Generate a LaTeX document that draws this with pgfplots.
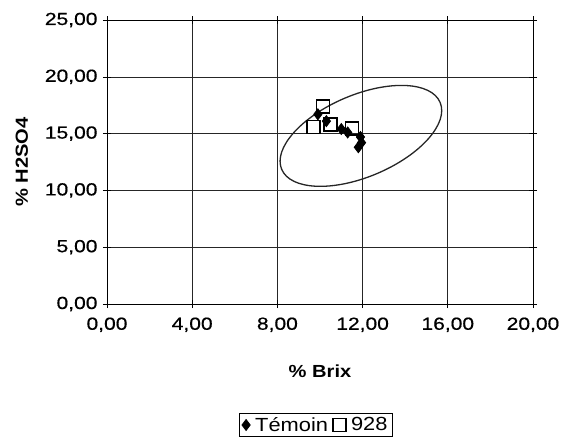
\documentclass[border=0pt]{standalone}
\usepackage{fontspec}
\setmainfont{Liberation Sans}
\newfontfamily\tickfont[FakeStretch=1.2,FakeBold=0.6]{Liberation Sans}
\newfontfamily\labfont[FakeStretch=1.15]{Liberation Sans}
\usepackage{pgfplots}
\pgfplotsset{compat=1.18}
\begin{document}
\begin{tikzpicture}
\begin{axis}[
  scale only axis,
  width=426pt, height=284pt,
  xmin=0, xmax=20, ymin=0, ymax=25,
  xtick={0,4,8,12,16,20},
  ytick={0,5,10,15,20,25},
  grid=major,
  grid style={black!85, line width=0.6pt},
  axis line style={black, line width=0.8pt},
  tick align=center,
  major tick length=8pt,
  tick style={black, line width=0.6pt},
  /pgf/number format/assume math mode=true,
  /pgf/number format/.cd, fixed, fixed zerofill, precision=2, use comma,
  /pgfplots/.cd,
  ticklabel style={font=\tickfont\fontsize{17.5}{20}\selectfont},
  xticklabel style={yshift=-6pt},
  yticklabel style={xshift=-2pt},
  xlabel={\labfont\bfseries\fontsize{17.5}{20}\selectfont\% Brix},
  ylabel={\labfont\bfseries\fontsize{17.5}{20}\selectfont\% H2SO4},
  xlabel style={yshift=-26pt},
  ylabel style={yshift=10pt},
  legend style={at={(axis description cs:0.490,-0.426)}, anchor=center,
    draw=black, line width=0.8pt, font=\labfont\fontsize{19}{22}\selectfont,
    inner xsep=3pt, inner ysep=1.5pt, column sep=3pt},
  legend columns=2,
  legend image code/.code={\draw[#1] plot coordinates {(0.25cm,0cm)};},
]
\addplot[only marks, mark=diamond*, mark size=5.5pt, black, fill=black, mark options={line width=0.8pt}]
  coordinates {(9.90,16.7) (10.30,16.1) (11.00,15.4) (11.30,15.1) (11.90,14.7) (11.95,14.2) (11.80,13.8)};
\addlegendentry{Témoin}
\addplot[only marks, mark=square, mark size=6.5pt, black, mark options={line width=1.4pt}]
  coordinates {(10.15,17.4) (9.69,15.6) (10.50,15.8) (11.50,15.45)};
\addlegendentry{928}
\draw[black!85, line width=1.3pt, rotate around={22.9:(axis cs:11.92,14.8)}]
  (axis cs:11.92,14.8) ellipse [x radius=86pt, y radius=41pt];
\end{axis}
\path ([xshift=-107pt,yshift=-135pt]current axis.south west) rectangle ++(568pt,439pt);
\end{tikzpicture}
\end{document}
